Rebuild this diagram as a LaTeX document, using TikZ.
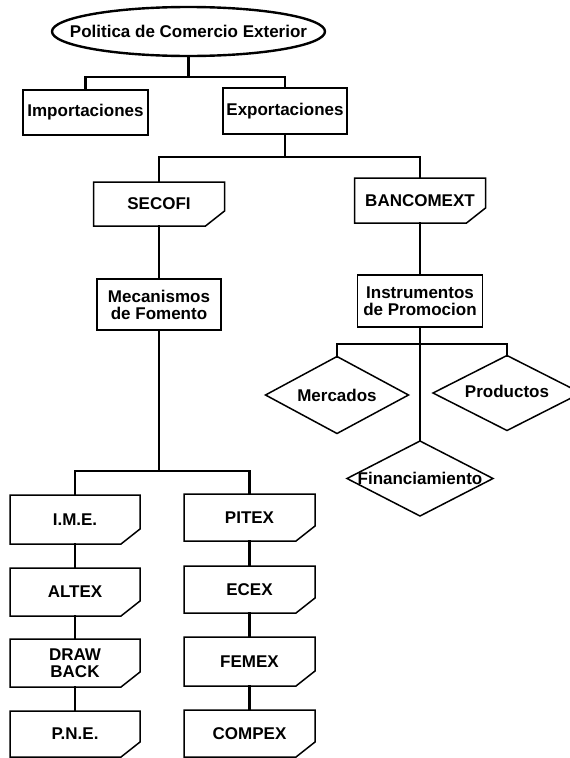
\documentclass[tikz,border=0pt]{standalone}
\usepackage{fontspec}
\setmainfont{Liberation Sans}
\usetikzlibrary{shapes.geometric}
\newcommand\cutoutline[1]{%
  \draw[boxline] (#1.north west) -- (#1.north east) -- ([yshift=15pt]#1.south east)
    -- ([xshift=-19pt]#1.south east) -- (#1.south west) -- cycle;}
\begin{document}
\begin{tikzpicture}[x=1pt,y=-1pt,
  txt/.style={font=\fontsize{17}{17}\selectfont\bfseries, align=center, inner sep=0pt, outer sep=0pt},
  conn/.style={line width=2.3pt, line cap=rect},
  boxline/.style={line width=1.5pt, line join=miter},
  plainbox/.style={txt, draw, line width=1.5pt},
  cutbox/.style={txt},
  dia/.style={diamond, draw, line width=1.5pt, inner sep=0pt, outer sep=0pt}]
\useasboundingbox (0,0) rectangle (570,758);
\clip (0,0) rectangle (570,758);
\fill[white] (0,0) rectangle (570,758);

% top
\node[ellipse, draw, line width=2.4pt, minimum width=273pt, minimum height=49pt, inner sep=0pt, outer sep=0pt] (ell) at (188.5,31.5) {};
\node[txt] (ellt) at (ell.center) {Politica de Comercio Exterior};
\node[plainbox, minimum width=125pt, minimum height=45pt] (imp) at (85.5,112.5) {Importaciones};
\node[plainbox, minimum width=124pt, minimum height=46pt] (exp) at (285,111) {Exportaciones};

% second level
\node[cutbox, minimum width=131pt, minimum height=44pt] (sec) at (159,204) {SECOFI};
\node[cutbox, minimum width=131pt, minimum height=45pt] (ban) at (420,200.5) {BANCOMEXT};
\node[plainbox, minimum width=124pt, minimum height=51pt] (mec) at (159,304.5) {Mecanismos\\de Fomento};
\node[plainbox, minimum width=125pt, minimum height=52pt] (ins) at (420,301) {Instrumentos\\de Promocion};

% diamonds
\node[dia, minimum width=143pt, minimum height=77pt] (mer) at (337,395) {};
\node[txt] (mert) at (mer.center) {Mercados};
\node[dia, minimum width=148pt, minimum height=75pt] (pro) at (507,393) {};
\node[txt] (prot) at ([yshift=2pt]pro.center) {Productos};
\node[dia, minimum width=146pt, minimum height=75pt] (fin) at (420,478.5) {};
\node[txt] (fint) at (fin.center) {Financiamiento};

% left column
\node[cutbox, minimum width=130pt, minimum height=49pt] (ime) at (75,519.5) {I.M.E.};
\node[cutbox, minimum width=130pt, minimum height=48pt] (alt) at (75,592) {ALTEX};
\node[cutbox, minimum width=130pt, minimum height=48pt] (drw) at (75,663) {DRAW\\BACK};
\node[cutbox, minimum width=130pt, minimum height=46pt] (pne) at (75,734) {P.N.E.};
% right column
\node[cutbox, minimum width=131pt, minimum height=47pt] (pit) at (249.5,517.5) {PITEX};
\node[cutbox, minimum width=131pt, minimum height=47pt] (ece) at (249.5,589.5) {ECEX};
\node[cutbox, minimum width=131pt, minimum height=49pt] (fem) at (249.5,661.5) {FEMEX};
\node[cutbox, minimum width=131pt, minimum height=47pt] (com) at (249.5,733.5) {COMPEX};

\foreach \n in {sec,ban,ime,alt,drw,pne,pit,ece,fem,com} {\cutoutline{\n}}

% connectors
\coordinate (b1) at (188.5,77);
\draw[conn] (ell.south) -- (b1);
\draw[conn] (imp.north) |- (b1) -| (exp.north);
\coordinate (b2) at (285,157);
\draw[conn] (exp.south) -- (b2);
\draw[conn] (sec.north) |- (b2) -| (ban.north);
\draw[conn] (sec.south) -- (mec.north);
\draw[conn] (ban.south) -- (ins.north);
\coordinate (b3) at (420,344);
\draw[conn] (ins.south) -- (fin.north);
\draw[conn] (mer.north) |- (b3) -| (pro.north);
\coordinate (b4) at (159,471);
\draw[conn] (mec.south) -- (b4);
\draw[conn] (ime.north) |- (b4) -| (pit.north);
\draw[conn] (ime.south) -- (alt.north);
\draw[conn] (alt.south) -- (drw.north);
\draw[conn] (drw.south) -- (pne.north);
\draw[conn] (pit.south) -- (ece.north);
\draw[conn] (ece.south) -- (fem.north);
\draw[conn] (fem.south) -- (com.north);
\end{tikzpicture}
\end{document}
